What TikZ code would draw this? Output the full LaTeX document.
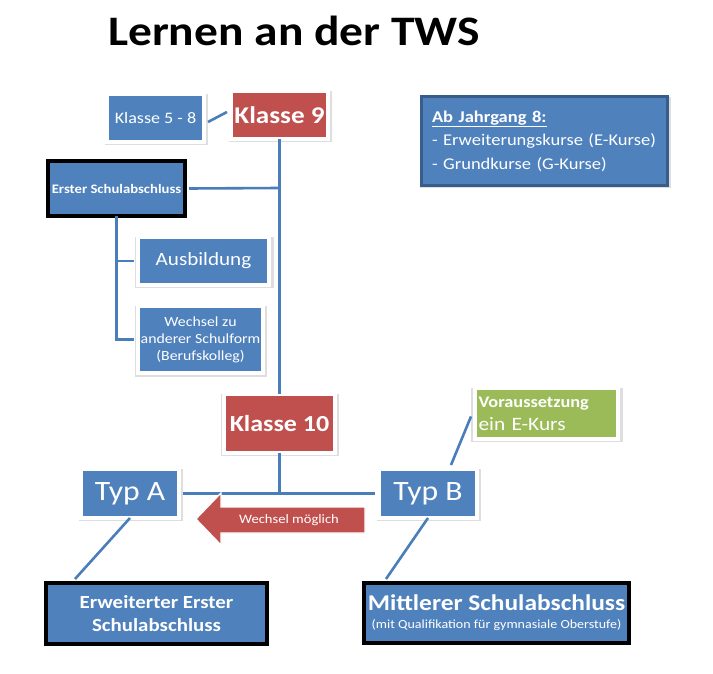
\documentclass[tikz,border=0pt]{standalone}
\usepackage{fontspec}
\setmainfont{Carlito}[FakeStretch=1.13]
\usetikzlibrary{calc,shadows}
\definecolor{obl}{HTML}{4F81BD}
\definecolor{ored}{HTML}{C0504D}
\definecolor{ogr}{HTML}{9BBB59}
\definecolor{oline}{HTML}{4A7EBB}
\definecolor{odk}{HTML}{385D8A}
\newcommand{\fs}[2]{\fontsize{#1}{#2}\selectfont}
\tikzset{
  wbox/.style={draw=white, line width=4pt, text=white, align=center, inner sep=1pt,
    drop shadow={shadow xshift=0.6pt, shadow yshift=-1.5pt, shadow scale=1.06, fill=black, opacity=0.13}},
  bbox/.style={draw=black, line width=4pt, fill=obl, text=white, align=center, inner sep=1pt},
  conn/.style={draw=oline, line width=2.6pt},
}
\begin{document}
\begin{tikzpicture}[x=1pt,y=-1pt]
\useasboundingbox[fill=white] (0,0) rectangle (713,674);
% title
\node[anchor=base west, inner sep=0pt, font=\bfseries\fs{42}{50}] (title) at (108,46) {Lernen an der TWS};
\coordinate (j1) at (279.5,188);
% nodes
\node[wbox, fill=obl, minimum width=97pt, minimum height=48pt, font=\fs{16}{19}] (k58) at (155.5,118) {Klasse 5 - 8};
\node[wbox, fill=ored, minimum width=97pt, minimum height=48pt, font=\bfseries\fs{24}{29}] (k9) at (279.5,115) {Klasse 9};
\node[bbox, minimum width=137pt, minimum height=55pt, font=\bfseries\fs{13}{16}] (erster) at (116.5,188.5) {Erster Schulabschluss};
\node[wbox, fill=obl, minimum width=131pt, minimum height=48pt, font=\fs{18.7}{22}] (aus) at (203.5,261) {Ausbildung};
\node[wbox, fill=obl, minimum width=125pt, minimum height=67pt, font=\fs{14}{17}] (wz) at (200.5,339.5) {Wechsel zu\\anderer Schulform\\(Berufskolleg)};
\node[wbox, fill=ored, minimum width=111pt, minimum height=59pt, font=\bfseries\fs{23}{28}] (k10) at (279.5,423.5) {Klasse 10};
\node[wbox, fill=obl, minimum width=98pt, minimum height=49pt, font=\fs{28}{33}] (tA) at (130,493.5) {Typ A};
\node[wbox, fill=obl, minimum width=98pt, minimum height=49pt, font=\fs{28}{33}] (tB) at (428,493.5) {Typ B};
\node[wbox, fill=ogr, minimum width=143pt, minimum height=51pt, align=left, text width=136pt, inner sep=1pt, font=\fs{18.9}{23}] (vor) at (546.5,413.5) {{\bfseries\fs{16.2}{23}Voraussetzung}\\ein E-Kurs};
\node[bbox, minimum width=221pt, minimum height=61pt, font=\bfseries\fs{18.5}{23}] (erw) at (156.5,613.5) {Erweiterter Erster\\Schulabschluss};
\node[bbox, minimum width=265pt, minimum height=60pt, font=\fs{12.4}{18}] (mit) at (496.5,613) {{\bfseries\fs{22.5}{18}Mittlerer Schulabschluss}\\(mit Qualifikation für gymnasiale Oberstufe)};
\node[draw=odk, line width=3pt, fill=obl, text=white, minimum width=246pt, minimum height=89pt, align=left, text width=225pt, font=\fs{16.4}{23.5},
  drop shadow={shadow xshift=0.6pt, shadow yshift=-1.5pt, shadow scale=1.02, fill=black, opacity=0.13}] (ab) at (544.5,141) {\textbf{\underline{Ab Jahrgang 8:}}\\- Erweiterungskurse (E-Kurse)\\- Grundkurse (G-Kurse)};
% connectors
\draw[conn] ($(k58.east)+(2,4)$) -- ($(k9.west)+(-2,-3)$);
\draw[conn] ([yshift=2pt]k9.south) -- ([yshift=-2pt]k10.north);
\draw[conn] ([xshift=2pt]erster.east) -- (j1);
\draw[conn] ([yshift=2pt]erster.south) |- ([xshift=-2pt]aus.west);
\draw[conn] ([yshift=2pt]erster.south) |- ([xshift=-2pt]wz.west);
\draw[conn] ([yshift=2pt]k10.south) -- (k10.south |- tA.east);
\draw[conn] ([xshift=2pt]tA.east) -- ([xshift=-2pt]tB.west);
\draw[conn] ($(tB.north)+(23,-2)$) -- ($(vor.west)+(-2,3)$);
\draw[conn] ([yshift=2pt]tA.south) -- ($(erw.north west)+(31,-2)$);
\draw[conn] ([yshift=2pt]tB.south) -- ($(mit.north west)+(24,-2)$);
% arrow
\fill[ored, draw=white, line width=1.2pt] (365,507) -- (221,507) -- (221,493) -- (196,519) -- (221,545) -- (221,533) -- (365,533) -- cycle;
\node[text=white, font=\fs{12.9}{15}, inner sep=0pt] (wm) at (289,520) {Wechsel möglich};
\end{tikzpicture}
\end{document}
